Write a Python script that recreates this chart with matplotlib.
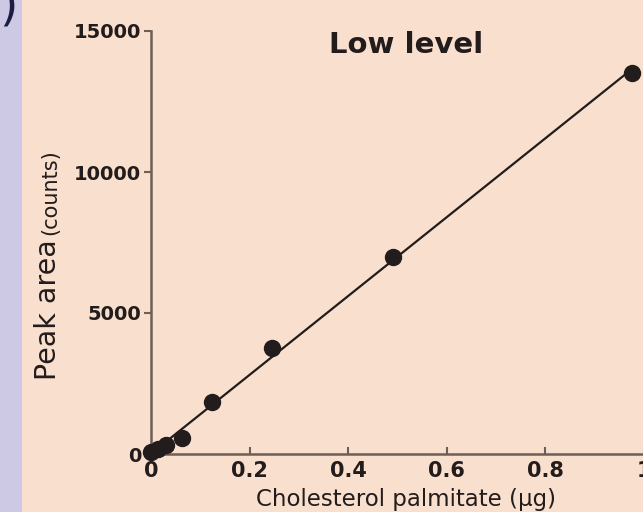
import numpy as np
import matplotlib.pyplot as plt
from matplotlib.patches import Rectangle

# amount of cholesterol palmitate (ug) and detector peak area (counts)
amount = [0.0, 0.015, 0.03, 0.062, 0.123, 0.245, 0.49, 0.975]
peak_area = [80, 160, 320, 560, 1840, 3750, 6990, 13510]
xticks = [0, 0.2, 0.4, 0.6, 0.8, 1]
xtick_labels = ['0', '0.2', '0.4', '0.6', '0.8', '1']
yticks = [0, 5000, 10000, 15000]
ytick_labels = ['0', '5000', '10000', '15000']

ink = '#231c1c'
spine_col = '#6e5e55'

fig = plt.figure(figsize=(6.43, 5.12), dpi=100)
fig.patch.set_facecolor('#f9dfcd')
# lavender strip on the left edge of the scan
fig.add_artist(Rectangle((0, 0), 22 / 643, 1, transform=fig.transFigure,
                         facecolor='#cdc8e4', edgecolor='none', zorder=0))
fig.text(-1 / 643, 1.03, ')', fontsize=34, color='#1c1d45', ha='left', va='top')

ax = fig.add_axes([151 / 643, 58 / 512, 493 / 643, 423 / 512])
ax.set_facecolor('none')

# straight-line fit through the calibration points
k, b = np.polyfit(amount, peak_area, 1)
xs = np.array([0, amount[-1]])
ax.plot(xs, k * xs + b, color=ink, lw=1.6, zorder=2)
ax.plot(amount, peak_area, 'o', color=ink, ms=11.5, zorder=3, clip_on=False)

ax.set_xlim(0, 1.0)
ax.set_ylim(0, 15000)
ax.set_xticks(xticks)
ax.set_xticklabels(xtick_labels)
ax.set_yticks(yticks)
ax.set_yticklabels(ytick_labels)

for s in ['top', 'right']:
    ax.spines[s].set_visible(False)
for s in ['left', 'bottom']:
    ax.spines[s].set_color(spine_col)
    ax.spines[s].set_linewidth(1.8)

ax.tick_params(axis='y', direction='out', length=5, width=1.5, color=spine_col,
               labelsize=14, labelcolor=ink, pad=2)
ax.tick_params(axis='x', direction='in', length=5, width=1.5, color=spine_col,
               labelsize=15, labelcolor=ink, pad=5)
for lab in ax.get_xticklabels() + ax.get_yticklabels():
    lab.set_fontweight('bold')

fig.text(406 / 643, 1 - 506 / 512, 'Cholesterol palmitate (\u03bcg)', fontsize=16.5,
         color=ink, ha='center', va='baseline')
fig.text(406 / 643, 1 - 53 / 512, 'Low level', fontsize=21, fontweight='bold',
         color=ink, ha='center', va='baseline')
fig.text(56 / 643, 1 - 380 / 512, 'Peak area', fontsize=20.5, rotation=90,
         rotation_mode='anchor', color=ink, ha='left', va='baseline')
fig.text(56 / 643, 1 - 235 / 512, '(counts)', fontsize=15, rotation=90,
         rotation_mode='anchor', color=ink, ha='left', va='baseline')

fig.savefig('out.png', dpi=100, facecolor=fig.get_facecolor())
